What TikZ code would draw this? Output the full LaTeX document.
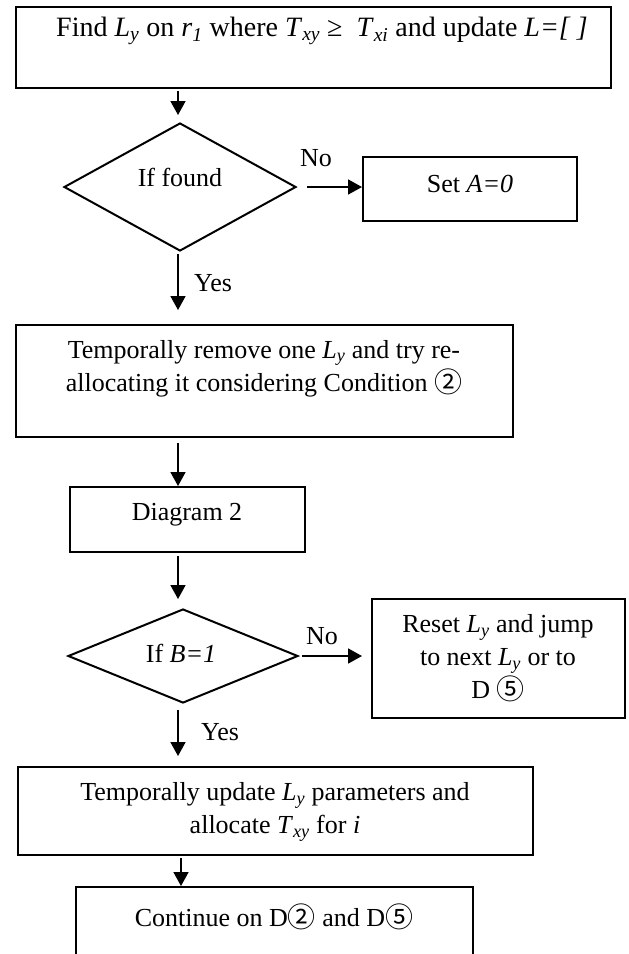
\documentclass[tikz,border=0pt]{standalone}
\usepackage{fontspec}
\setmainfont{Liberation Serif}
\newfontfamily\cjk{Noto Sans CJK SC}
\usetikzlibrary{shapes.geometric,arrows.meta}
\newcommand\vsub[2]{\textit{#1}\textsubscript{\textit{#2}}}
\newcommand\circn[1]{\raisebox{-1pt}{\cjk\fontsize{28}{28}\selectfont #1}}
\begin{document}
\begin{tikzpicture}[x=1pt,y=-1pt,
  box/.style={draw, line width=2pt, rectangle, inner sep=0pt},
  dia/.style={draw, line width=2pt, diamond, inner sep=0pt},
  txt/.style={inner sep=0pt, font=\fontsize{26}{33}\selectfont, align=center},
  arr/.style={line width=1.8pt, -{Triangle[length=14pt,width=15pt]}}]
\clip (0,0) rectangle (629,954);
\fill[white] (0,0) rectangle (629,954);
% shapes
\node[box, minimum width=595pt, minimum height=81pt] (b1) at (313.5,47.5) {};
\node[dia, minimum width=232pt, minimum height=128pt] (d1) at (180,187) {};
\node[box, minimum width=214pt, minimum height=64pt] (setb) at (470,189) {};
\node[box, minimum width=497pt, minimum height=112pt] (b3) at (264.5,381) {};
\node[box, minimum width=235pt, minimum height=65pt] (dg2) at (187.5,519.5) {};
\node[dia, minimum width=230pt, minimum height=94pt] (d2) at (183,656) {};
\node[box, minimum width=253pt, minimum height=119pt] (reset) at (498.5,658.5) {};
\node[box, minimum width=515pt, minimum height=88pt] (upd) at (275.5,811) {};
\node[box, minimum width=397pt, minimum height=113pt] (fin) at (274.5,943.5) {};
% texts
\node[txt, font=\fontsize{28}{33}\selectfont] (t1) at (322,31) {Find \vsub{L}{y} on \vsub{r}{1} where \vsub{T}{xy} ≥\ \ \vsub{T}{xi} and update \textit{L=[ ]}};
\node[txt] (td1) at (180,177) {If found};
\node[txt] (tset) at (470,184) {Set \textit{A=0}};
\node[txt] (t3) at (264,368.5) {Temporally remove one \vsub{L}{y} and try re-\\allocating it considering Condition \circn{②}};
\node[txt] (tdg2) at (187,515) {Diagram 2};
\node[txt] (td2) at (181,653) {If \textit{B=1}};
\node[txt] (treset) at (498,658) {Reset \vsub{L}{y} and jump\\to next \vsub{L}{y} or to\\D \circn{⑤}};
\node[txt] (tupd) at (275,812) {Temporally update \vsub{L}{y} parameters and\\allocate \vsub{T}{xy} for \textit{i}};
\node[txt] (tfin) at (274,917) {Continue on D\circn{②} and D\circn{⑤}};
% labels
\node[txt] (no1) at (316,158) {No};
\node[txt] (yes1) at (213,283) {Yes};
\node[txt] (no2) at (322,636) {No};
\node[txt] (yes2) at (220,732) {Yes};
% connectors
\coordinate (c) at (178,0);
\coordinate (c2) at (181,0);
\draw[arr, shorten <=2pt, shorten >=7pt] (c |- b1.south) -- (c |- d1.north);
\draw[arr, shorten <=10pt] (d1.east) -- (setb.west |- d1.east);
\draw[arr, shorten <=2pt, shorten >=14pt] (c |- d1.south) -- (c |- b3.north);
\draw[arr, shorten <=5pt] (c |- b3.south) -- (c |- dg2.north);
\draw[arr, shorten <=3pt, shorten >=9pt] (c |- dg2.south) -- (c |- d2.north);
\draw[arr, shorten <=3pt, shorten >=9pt] (d2.east) -- (reset.west |- d2.east);
\draw[arr, shorten <=6pt, shorten >=10pt] (c |- d2.south) -- (c |- upd.north);
\draw[arr, shorten <=2pt] (c2 |- upd.south) -- (c2 |- fin.north);
\end{tikzpicture}
\end{document}
